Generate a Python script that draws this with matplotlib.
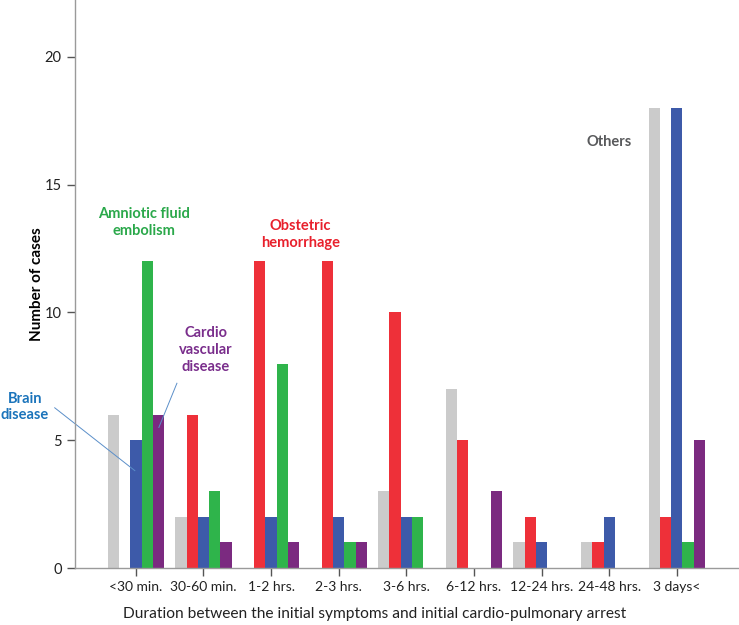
import numpy as np
import matplotlib.pyplot as plt

plt.rcParams['font.family'] = ['Lato', 'DejaVu Sans']

durations = ["<30 min.", "30-60 min.", "1-2 hrs.", "2-3 hrs.", "3-6 hrs.",
             "6-12 hrs.", "12-24 hrs.", "24-48 hrs.", "3 days<"]
others = [6, 2, 0, 0, 3, 7, 1, 1, 18]
hemorrhage = [0, 6, 12, 12, 10, 5, 2, 1, 2]
brain = [5, 2, 2, 2, 2, 0, 1, 2, 18]
amniotic = [12, 3, 8, 1, 2, 0, 0, 0, 1]
cardio = [6, 1, 1, 1, 0, 3, 0, 0, 5]

series = [others, hemorrhage, brain, amniotic, cardio]
colors = ["#cbcbcb", "#ee3039", "#3d5aa9", "#2fb44b", "#7b2a80"]

fig = plt.figure(figsize=(7.39, 6.25), dpi=100)
ax = fig.add_axes([0.1015, 0.0912, 0.8985, 0.9088])

x = np.arange(len(durations))
w = 0.167
for i, (vals, c) in enumerate(zip(series, colors)):
    ax.bar(x + (i - 2) * w, vals, width=w, color=c, linewidth=0)

ax.set_xlim(-0.9, 8.92)
ax.set_ylim(0, 22.23)
ax.set_yticks([0, 5, 10, 15, 20])
ax.set_xticks(x)
ax.set_xticklabels(durations)
for s in ["top", "right"]:
    ax.spines[s].set_visible(False)
for s in ["left", "bottom"]:
    ax.spines[s].set_color("#9a9a9a")
    ax.spines[s].set_linewidth(1)
ax.tick_params(axis="both", colors="#555555", labelcolor="#222222", length=6, width=1)
ax.tick_params(axis="x", labelsize=10)
ax.tick_params(axis="y", labelsize=10.5)

# axis titles
fig.text(37 / 739, 1 - 284 / 625, "Number of cases", rotation=90, fontsize=11,
         fontweight="bold", ha="center", va="center")
fig.text(375 / 739, 1 - 614 / 625,
         "Duration between the initial symptoms and initial cardio-pulmonary arrest",
         fontsize=11.2, ha="center", va="center", color="#222222")

# annotations
lab = dict(fontsize=10.5, fontweight="bold", ha="center", va="center", linespacing=1.25)
ax.text(0.126, 13.52, "Amniotic fluid\nembolism", color="#2aa84a", **lab)
ax.text(2.43, 13.05, "Obstetric\nhemorrhage", color="#e8202c", **lab)
ax.text(1.035, 8.53, "Cardio\nvascular\ndisease", color="#7a2e8c", **lab)
ax.text(-1.64, 6.3, "Brain\ndisease", color="#1b74bb", clip_on=False, **lab)
ax.text(7.0, 16.69, "Others", color="#58595b", **lab)

ax.plot([-1.2, -0.015], [6.27, 3.81], color="#5b8fc9", lw=0.7, clip_on=False)
ax.plot([0.607, 0.34], [7.23, 5.5], color="#5b8fc9", lw=0.7, clip_on=False)

fig.savefig("out.png", dpi=100)
